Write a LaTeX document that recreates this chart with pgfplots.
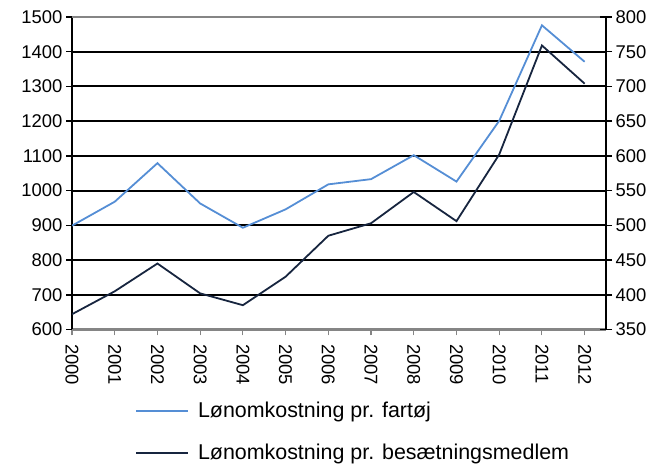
\documentclass[border=0pt]{standalone}
\usepackage{fontspec}
\setmainfont{Liberation Sans}
\usepackage{pgfplots}
\pgfplotsset{compat=1.18}
\definecolor{lightline}{HTML}{558ED5}
\definecolor{darkline}{HTML}{17253F}
\definecolor{axisgray}{HTML}{858585}

\pgfplotsset{
  twin/.style={
    at={(72bp,136.5bp)}, anchor=south west,
    width=534bp, height=312.5bp, scale only axis,
    xmin=2000, xmax=2012.5,
    /pgf/number format/assume math mode=true,
    /pgf/number format/1000 sep={},
    tick label style={font=\fontsize{18.5}{22}\selectfont},
    major tick length=6bp,
  },
}

\begin{document}
\begin{tikzpicture}[x=1bp,y=1bp]
\useasboundingbox (0,0) rectangle (661,466);

% left axis: per vessel
\begin{axis}[
  twin,
  ymin=600, ymax=1500,
  ytick={600,700,...,1500},
  xtick={2000,...,2012},
  xticklabel style={yshift=-5bp, rotate=-90, anchor=west},
  axis x line*=bottom, axis y line*=left,
  x axis line style={axisgray, line width=2.5bp},
  y axis line style={black, line width=2bp},
  xtick style={axisgray, line width=1.2bp},
  ytick style={black, line width=1.5bp},
  tick align=outside,
  ymajorgrids,
  grid style={black, line width=1.9bp},
  major grid style={black, line width=1.9bp},
]
\draw[axisgray, line width=1.8bp] (rel axis cs:0,1) -- (rel axis cs:1,1);
\addplot[lightline, line width=1.8bp] coordinates {
  (2000,899) (2001,968) (2002,1079) (2003,963) (2004,893) (2005,946)
  (2006,1018) (2007,1033) (2008,1102) (2009,1026) (2010,1201)
  (2011,1476) (2012,1371)
};
\end{axis}

% right axis: per crew member
\begin{axis}[
  twin,
  ymin=350, ymax=800,
  ytick={350,400,...,800},
  axis x line=none, axis y line*=right,
  y axis line style={black, line width=2bp},
  ytick style={black, line width=1.5bp},
  ytick align=center,
  major tick length=12bp,
  legend style={at={(0.1180,-0.226)}, anchor=north west, draw=none, fill=none,
    font=\fontsize{21.5}{26}\selectfont, row sep=21bp, column sep=7bp,
    inner sep=0pt},
  legend cell align=left,
  legend image code/.code={\draw[#1] (0bp,0bp) -- (52bp,0bp);},
]
\addlegendimage{lightline, line width=1.8bp}
\addlegendentry{Lønomkostning pr. fartøj}
\addplot[darkline, line width=1.8bp] coordinates {
  (2000,372) (2001,405) (2002,445) (2003,402) (2004,385) (2005,426)
  (2006,485) (2007,503) (2008,548) (2009,506) (2010,602)
  (2011,759) (2012,704)
};
\addlegendentry{Lønomkostning pr. besætningsmedlem}
\end{axis}
\end{tikzpicture}
\end{document}
